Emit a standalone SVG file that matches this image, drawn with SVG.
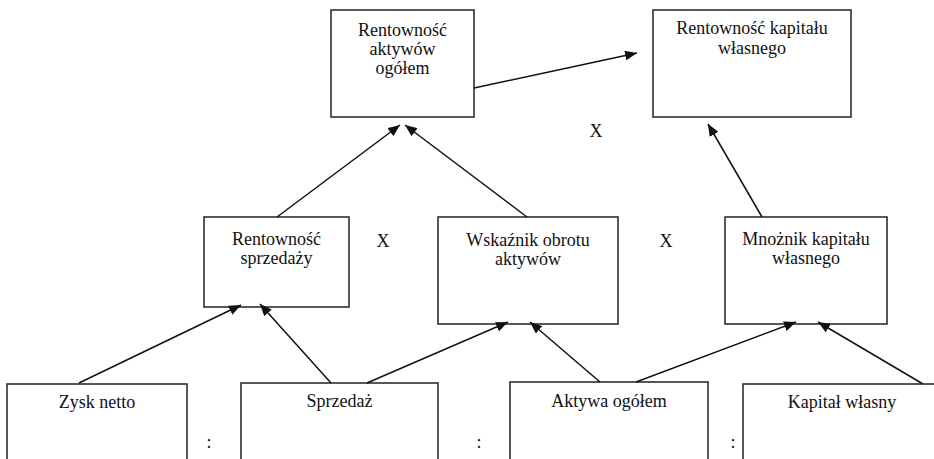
<svg xmlns="http://www.w3.org/2000/svg" width="934" height="459" viewBox="0 0 934 459">
<style>
rect{fill:#fff;stroke:#222;stroke-width:1.5}
text{font-family:"Liberation Serif","Times New Roman",serif;font-size:18px;fill:#111;text-anchor:middle}
.c line{stroke:#111;stroke-width:1.5;marker-end:url(#ah)}
</style>
<defs>
<marker id="ah" viewBox="0 0 12 10" refX="12" refY="5" markerWidth="12" markerHeight="10" markerUnits="userSpaceOnUse" orient="auto">
<path d="M0,0 L12,5 L0,10 z" fill="#111"/>
</marker>
</defs>
<rect x="0" y="0" width="934" height="459" style="fill:#fff;stroke:none"/>
<g id="n_rao"><rect x="331" y="10" width="143" height="107"/><text x="402.5" y="36">Rentowność</text><text x="402.5" y="55">aktywów</text><text x="402.5" y="74">ogółem</text></g>
<g id="n_rkw"><rect x="653" y="10" width="198" height="107"/><text x="752" y="34">Rentowność kapitału</text><text x="752" y="54">własnego</text></g>
<g id="n_rs"><rect x="204" y="217" width="145" height="90"/><text x="276.5" y="245">Rentowność</text><text x="276.5" y="264">sprzedaży</text></g>
<g id="n_woa"><rect x="438" y="217" width="180" height="107"/><text x="528" y="246">Wskaźnik obrotu</text><text x="528" y="265">aktywów</text></g>
<g id="n_mkw"><rect x="725" y="217" width="162" height="107"/><text x="806" y="245">Mnożnik kapitału</text><text x="806" y="264">własnego</text></g>
<g id="n_zn"><rect x="7" y="384" width="180" height="90"/><text x="97" y="408">Zysk netto</text></g>
<g id="n_sp"><rect x="241" y="383" width="197" height="90"/><text x="339.5" y="407">Sprzedaż</text></g>
<g id="n_ao"><rect x="510" y="382" width="198" height="90"/><text x="609" y="407">Aktywa ogółem</text></g>
<g id="n_kw"><rect x="743" y="384" width="198" height="90"/><text x="842" y="408">Kapitał własny</text></g>
<g id="ops">
<text x="596" y="137">X</text>
<text x="383" y="247">X</text>
<text x="666" y="247">X</text>
<text x="209" y="448">:</text>
<text x="479" y="448">:</text>
<text x="733" y="448">:</text>
</g>
<g id="connectors" class="c">
<line x1="474" y1="88" x2="637" y2="53"/>
<line x1="277" y1="217" x2="400" y2="125"/>
<line x1="527" y1="217" x2="405" y2="125"/>
<line x1="762" y1="217" x2="708" y2="124"/>
<line x1="79" y1="383" x2="241" y2="305"/>
<line x1="331" y1="383" x2="260" y2="304"/>
<line x1="367" y1="383" x2="508" y2="322"/>
<line x1="600" y1="382" x2="530" y2="322"/>
<line x1="636" y1="382" x2="796" y2="322"/>
<line x1="923" y1="384" x2="818" y2="322"/>
</g>
</svg>
